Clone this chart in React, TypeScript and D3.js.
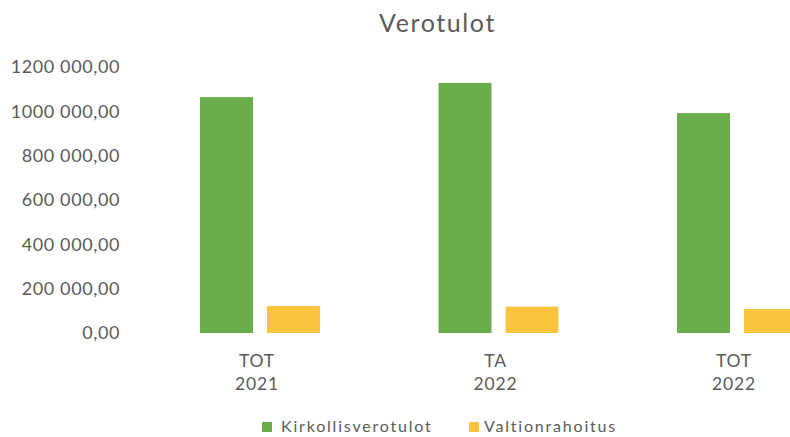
import React from "react";
import * as d3 from "d3";

const categories = [["TOT", "2021"], ["TA", "2022"], ["TOT", "2022"]];
const categoryKeys = ["TOT 2021", "TA 2022", "TOT 2022"];
const seriesNames = ["Kirkollisverotulot", "Valtionrahoitus"];
const kirkollisverotulot = [1063000, 1127000, 991000];
const valtionrahoitus = [122000, 118500, 108000];
const yTicks = [0, 200000, 400000, 600000, 800000, 1000000, 1200000];
const title = "Verotulot";

const colors = ["#6aae4b", "#fbc43f"];
const textColor = "#5b5b5b";
const font = "Lato, 'Open Sans', sans-serif";

function fmt(v: number): string {
  const s = Math.round(v).toString();
  const head = s.length > 3 ? s.slice(0, s.length - 3) : "";
  const tail = s.length > 3 ? s.slice(-3) : s;
  return (head ? head + " " + tail : tail) + ",00";
}

export default function App() {
  const W = 790;
  const H = 437;
  const y = d3.scaleLinear().domain([0, 1200000]).range([333, 66.7]);
  const x0 = d3
    .scaleBand<string>()
    .domain(categoryKeys)
    .range([140.75, 856.25])
    .paddingInner(0.497)
    .paddingOuter(0.2485);
  const x1 = d3
    .scaleBand<string>()
    .domain(seriesNames)
    .range([0, x0.bandwidth()])
    .paddingInner(14 / 67)
    .paddingOuter(0);
  const seriesValues = [kirkollisverotulot, valtionrahoitus];

  return (
    <svg
      width={W}
      height={H}
      style={{ position: "absolute", left: 0, top: 0, background: "#fff" }}
      fontFamily={font}
    >
      <rect x={0} y={0} width={W} height={H} fill="#fff" />
      <text
        x={437.5}
        y={32}
        textAnchor="middle"
        fontSize={25}
        letterSpacing={1.6}
        fill={textColor}
      >
        {title}
      </text>
      {yTicks.map((t) => (
        <text
          key={t}
          x={120}
          y={y(t)}
          dy="0.36em"
          textAnchor="end"
          fontSize={18}
          letterSpacing={0.6}
          fill={textColor}
        >
          {fmt(t)}
        </text>
      ))}
      {categoryKeys.map((c, i) =>
        seriesNames.map((s, j) => {
          const v = seriesValues[j][i];
          return (
            <rect
              key={c + s}
              x={(x0(c) ?? 0) + (x1(s) ?? 0)}
              y={y(v)}
              width={x1.bandwidth()}
              height={y(0) - y(v)}
              fill={colors[j]}
            />
          );
        })
      )}
      {categoryKeys.map((c, i) => {
        const cx = (x0(c) ?? 0) + x0.bandwidth() / 2 - 3;
        return (
          <g key={c} fill={textColor} fontSize={17.5} textAnchor="middle">
            <text x={cx} y={367} letterSpacing={0.8}>{categories[i][0]}</text>
            <text x={cx} y={390} letterSpacing={0.8}>{categories[i][1]}</text>
          </g>
        );
      })}
      <g>
        <rect x={262} y={422} width={10} height={10} fill={colors[0]} />
        <text x={281} y={432} fontSize={16} letterSpacing={1.8} fill={textColor}>
          {seriesNames[0]}
        </text>
        <rect x={469} y={422} width={10} height={10} fill={colors[1]} />
        <text x={484} y={432} fontSize={16} letterSpacing={1.8} fill={textColor}>
          {seriesNames[1]}
        </text>
      </g>
    </svg>
  );
}
